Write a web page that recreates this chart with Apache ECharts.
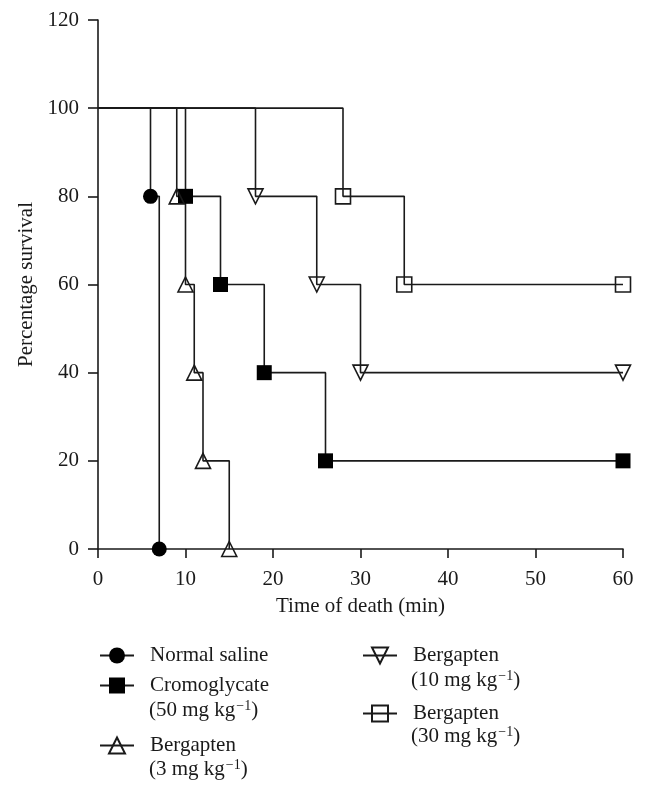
<!DOCTYPE html>
<html>
<head>
<meta charset="utf-8">
<script src="https://cdn.jsdelivr.net/npm/echarts@6/dist/echarts.min.js"></script>
<style>
  html, body { margin: 0; padding: 0; background: #fff; }
  #chart { width: 646px; height: 796px; }
</style>
</head>
<body>
<div id="chart"></div>
<script>
// survival data (time in min, % survival) - first point is the start, no marker
const salineTime = [0, 6, 7]
const salineSurv = [100, 80, 0]
const cromoTime = [0, 10, 14, 19, 26, 60]
const cromoSurv = [100, 80, 60, 40, 20, 20]
const berg3Time = [0, 9, 10, 11, 12, 15]
const berg3Surv = [100, 80, 60, 40, 20, 0]
const berg10Time = [0, 18, 25, 30, 60]
const berg10Surv = [100, 80, 60, 40, 40]
const berg30Time = [0, 28, 35, 60]
const berg30Surv = [100, 80, 60, 60]

const xTicks = [0, 10, 20, 30, 40, 50, 60]
const yTicks = [0, 20, 40, 60, 80, 100, 120]

const FONT = 'Liberation Serif'
const INK = '#1a1a1a'

// build step points, first point without symbol
const toData = (times, surv) => times.map((t, i) => {
  if (i === 0) return { value: [t, surv[i]], symbol: 'none' }
  return [t, surv[i]]
})

const makeSeries = (name, times, surv, symbol, filled, rotate) => ({
  name: name,
  type: 'line',
  step: 'end',
  data: toData(times, surv),
  symbol: symbol,
  symbolSize: 15,
  symbolRotate: rotate || 0,
  showAllSymbol: true,
  lineStyle: { color: INK, width: 1.6 },
  itemStyle: {
    color: filled ? '#000' : 'rgba(255,255,255,0)',
    borderColor: filled ? '#000' : INK,
    borderWidth: filled ? 0 : 1.6
  },
  emphasis: { disabled: true },
  animation: false
})

const series = [
  makeSeries('Normal saline', salineTime, salineSurv, 'circle', true),
  makeSeries('Cromoglycate (50 mg kg−1)', cromoTime, cromoSurv, 'rect', true),
  makeSeries('Bergapten (3 mg kg−1)', berg3Time, berg3Surv, 'triangle', false),
  makeSeries('Bergapten (10 mg kg−1)', berg10Time, berg10Surv, 'triangle', false, 180),
  makeSeries('Bergapten (30 mg kg−1)', berg30Time, berg30Surv, 'rect', false)
]

// one legend per entry so the icon sits on the first text line
const legendPos = [
  { left: 99, top: 645 },
  { left: 99, top: 675 },
  { left: 99, top: 735 },
  { left: 362, top: 645 },
  { left: 362, top: 703 }
]
const legends = series.map((s, i) => ({
  data: [s.name],
  left: legendPos[i].left,
  top: legendPos[i].top,
  padding: 0,
  itemWidth: 34,
  itemHeight: 20,
  selectedMode: false,
  formatter: name => name.split(' (')[0],
  textStyle: { fontFamily: FONT, fontSize: 21, color: INK, padding: [0, 0, 0, 11] }
}))

// second lines of the legend labels, with superscript
const secondLines = [
  { text: '(50 mg kg{sup|−1})', x: 149, y: 711 },
  { text: '(3 mg kg{sup|−1})', x: 149, y: 770 },
  { text: '(10 mg kg{sup|−1})', x: 411, y: 681 },
  { text: '(30 mg kg{sup|−1})', x: 411, y: 737 }
]

const chart = echarts.init(document.getElementById('chart'))
chart.setOption({
  backgroundColor: '#fff',
  animation: false,
  grid: { left: 98, right: 23, top: 20, bottom: 247, containLabel: false },
  xAxis: {
    type: 'value',
    min: xTicks[0],
    max: xTicks[xTicks.length - 1],
    interval: 10,
    name: 'Time of death (min)',
    nameLocation: 'middle',
    nameGap: 47,
    nameTextStyle: { fontFamily: FONT, fontSize: 21, color: INK },
    axisLine: { onZero: false, lineStyle: { color: INK, width: 1.6 } },
    axisTick: { show: true, inside: false, length: 9, lineStyle: { color: INK, width: 1.6 } },
    axisLabel: { fontFamily: FONT, fontSize: 21, color: INK, margin: 20 },
    splitLine: { show: false }
  },
  yAxis: {
    type: 'value',
    min: yTicks[0],
    max: yTicks[yTicks.length - 1],
    interval: 20,
    name: 'Percentage survival',
    nameLocation: 'middle',
    nameGap: 61,
    nameTextStyle: { fontFamily: FONT, fontSize: 21, color: INK },
    axisLine: { show: true, onZero: false, lineStyle: { color: INK, width: 1.6 } },
    axisTick: { show: true, inside: false, length: 10, lineStyle: { color: INK, width: 1.6 } },
    axisLabel: { fontFamily: FONT, fontSize: 21, color: INK, margin: 19 },
    splitLine: { show: false }
  },
  legend: legends,
  graphic: secondLines.map(l => ({
    type: 'text',
    left: l.x,
    top: l.y - 12,
    style: {
      text: l.text,
      fontFamily: FONT,
      fontSize: 21,
      fill: INK,
      rich: {
        sup: { fontFamily: FONT, fontSize: 14, fill: INK, verticalAlign: 'top', padding: [0, 0, 8, 1] }
      }
    }
  })),
  series: series
})
</script>
</body>
</html>
